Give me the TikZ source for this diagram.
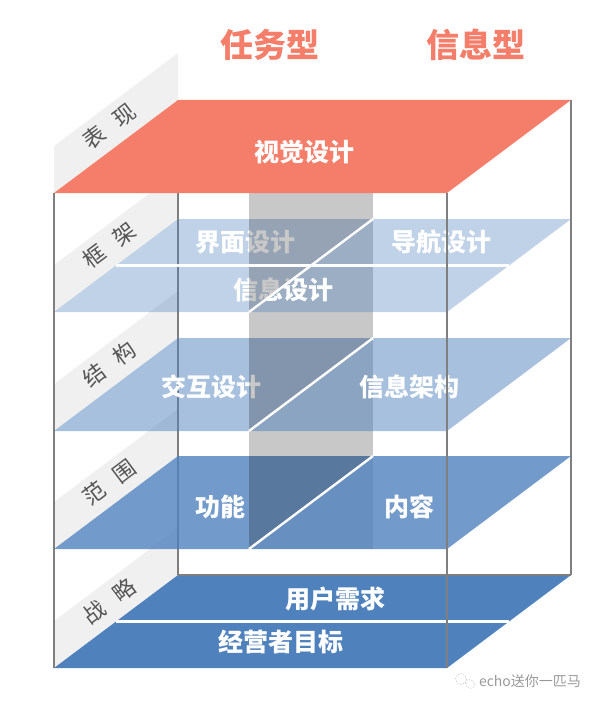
\documentclass[tikz,border=0pt]{standalone}
\usepackage{fontspec}
\newfontfamily\cjk{Noto Sans CJK SC}
\definecolor{salmon}{HTML}{F47E69}
\definecolor{plateblue}{HTML}{4F81BD}
\definecolor{stripgray}{HTML}{F0F0F0}
\definecolor{edgegray}{HTML}{7F7F7F}
\definecolor{colgray}{HTML}{C8C8C8}
\definecolor{labelgray}{HTML}{555555}

\begin{document}
\begin{tikzpicture}[x=1pt,y=-1pt,
  edge/.style={edgegray,line width=2.7pt},
  gap/.style={white,line width=2.4pt},
  strip/.style={fill=stripgray},
  layer/.style={white,font=\cjk\bfseries\fontsize{25}{25}\selectfont},
  side/.style={labelgray,rotate=37,font=\cjk\fontsize{22}{22}\selectfont},
  title/.style={salmon,font=\cjk\bfseries\fontsize{33}{33}\selectfont}]

\useasboundingbox (0,0) rectangle (606,706);

% label strips
\foreach \y/\a/\b/\n in {100/表/现/bx,219/框/架/kj,338/结/构/jg,456/范/围/fw,575/战/略/zl}{
  \fill[strip] (54,{\y+93}) -- (178,\y) -- (178,{\y-47}) -- (54,{\y+46}) -- cycle;
  \node[side] (\n) at (109,{\y+26}) {\a\hspace{0.7em}\b};
}

% back edges
\draw[edge] (178,193) -- (178,575);
\draw[edge] (571,100) -- (571,575);

% column
\fill[colgray] (249,193) rectangle (373,549);

% top plate
\fill[salmon] (178,100) -- (571,100) -- (447,193) -- (54,193) -- cycle;

% middle plates
\foreach \y/\op in {219/0.36,338/0.5,456/0.8}{
  \begin{scope}
    \clip (249,193) rectangle (373,549);
    \fill[white] (178,\y) -- (373,\y) -- (249,{\y+93}) -- (54,{\y+93}) -- cycle;
  \end{scope}
  \fill[plateblue,fill opacity=\op] (178,\y) -- (373,\y) -- (249,{\y+93}) -- (54,{\y+93}) -- cycle;
  \fill[plateblue,fill opacity=\op] (373,\y) -- (571,\y) -- (447,{\y+93}) -- (249,{\y+93}) -- cycle;
}

% bottom plate
\fill[plateblue] (178,575) -- (571,575) -- (447,668) -- (54,668) -- cycle;
\draw[edge] (178,575) -- (571,575);

% texts
\node[layer] (vis) at (304,152) {视觉设计};
\node[layer] (ui) at (245,242) {界面设计};
\node[layer] (nav) at (441,242) {导航设计};
\node[layer] (infod) at (283,290) {信息设计};
\node[layer] (ixd) at (211,387) {交互设计};
\node[layer] (ia) at (409,387) {信息架构};
\node[layer] (func) at (220,507) {功能};
\node[layer] (cont) at (409,507) {内容};
\node[layer] (need) at (335,599) {用户需求};
\node[layer] (goal) at (281,642) {经营者目标};

% column in front of left halves
\begin{scope}
  \clip (249,193) rectangle (373,549);
  \foreach \y in {219,338,456}
    \fill[black,fill opacity=0.216] (178,\y) -- (373,\y) -- (249,{\y+93}) -- (54,{\y+93}) -- cycle;
\end{scope}

% gaps
\draw[gap] (116,265.5) -- (509,265.5);
\draw[gap] (116,621.5) -- (509,621.5);
\foreach \y in {219,338,456}
  \draw[gap] (373,\y) -- (249,{\y+93});

% front edges
\draw[edge] (54,193) -- (54,668);
\draw[edge] (447,193) -- (447,668);

% headings
\node[title] (task) at (270,45) {任务型};
\node[title] (info) at (476,45) {信息型};

% watermark
\draw[gray!50,line width=0.8pt,dotted] (461,679) circle (5.5) (470,684) circle (4.5);
\node[gray!80,font=\cjk\fontsize{14}{14}\selectfont] (mark) at (530,681) {echo送你一匹马};

\end{tikzpicture}
\end{document}
